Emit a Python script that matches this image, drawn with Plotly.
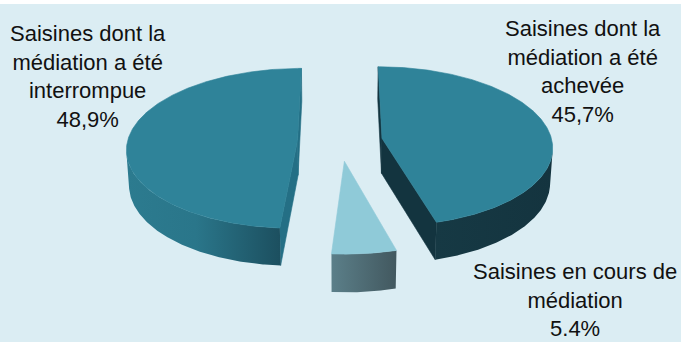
import numpy as np
import plotly.graph_objects as go

# ---- data -------------------------------------------------------------
categories = [
    "Saisines dont la médiation a été achevée",
    "Saisines en cours de médiation",
    "Saisines dont la médiation a été interrompue",
]
values = [45.7, 5.4, 48.9]
value_labels = ["45,7%", "5.4%", "48,9%"]
label_lines = [
    "Saisines dont la<br>médiation a été<br>achevée",
    "Saisines en cours de<br>médiation",
    "Saisines dont la<br>médiation a été<br>interrompue",
]

# ---- styling ----------------------------------------------------------
top_colors = ["#2f8399", "#8fcad8", "#2f8399"]
cut_colors = ["#13343f", "#42585f", "#246f85"]
side_scales = [
    [[0, "#163944"], [1, "#14343f"]],
    [[0, "#5b7f89"], [1, "#42585f"]],
    [[0, "#2c7b8f"], [0.45, "#2a768a"], [1, "#1c4f5f"]],
]
label_pos = [(583, 71), (575, 300), (88, 76)]
BG = "#dbedf3"

W, H = 681, 342
CX, CY = 340, 141          # screen position of the pie centre
RX = 170                   # projected radius at centre depth (px)
DIST = 8.85                # camera distance in pie radii
ALPHA = np.radians(27.8)   # elevation of the view
F = RX * DIST
THICK = 0.235              # pie thickness in radii
EXPLODE = 0.25
CAM = np.array([0.0, DIST * np.sin(ALPHA), DIST * np.cos(ALPHA)])


def project(x, y, z):
    x, y, z = np.asarray(x, float), np.asarray(y, float), np.asarray(z, float)
    depth = DIST - y * np.sin(ALPHA) - z * np.cos(ALPHA)
    up = y * np.cos(ALPHA) - z * np.sin(ALPHA)
    return CX + F * x / depth, CY - F * up / depth


def poly(xs, ys, color=None, scale=None, width=0.6):
    xs = list(xs) + [xs[0]]
    ys = list(ys) + [ys[0]]
    kw = dict(x=xs, y=ys, mode="lines", fill="toself",
              hoverinfo="skip", showlegend=False)
    if scale is not None:
        kw["fillgradient"] = dict(type="horizontal", colorscale=scale)
        kw["line"] = dict(width=0)
    else:
        kw["fillcolor"] = color
        kw["line"] = dict(color=color, width=width)
    return go.Scatter(**kw)


def facing(normal_xz, px, pz):
    to_cam = np.array([CAM[0] - px, CAM[2] - pz])
    return float(np.dot(normal_xz, to_cam)) > 0


total = sum(values)
bounds = np.concatenate([[0], np.cumsum(values)]) / total * 360.0

slices = []
for i, v in enumerate(values):
    a0, a1 = np.radians(bounds[i]), np.radians(bounds[i + 1])
    mid = (a0 + a1) / 2
    ox, oz = EXPLODE * np.sin(mid), -EXPLODE * np.cos(mid)
    slices.append((i, a0, a1, ox, oz))

# paint the slices from the back to the front
slices.sort(key=lambda s: s[4])

traces = []
for i, a0, a1, ox, oz in slices:
    n = max(int(np.degrees(a1 - a0) * 2), 8)
    th = np.linspace(a0, a1, n + 1)

    # radial cut faces
    for ang, sign in ((a0, -1), (a1, 1)):
        nrm = sign * np.array([np.cos(ang), np.sin(ang)])
        if facing(nrm, ox, oz):
            ex, ez = ox + np.sin(ang), oz - np.cos(ang)
            sx, sy = project([ox, ex, ex, ox], [0, 0, -THICK, -THICK],
                             [oz, ez, ez, oz])
            traces.append(poly(sx, sy, cut_colors[i]))

    # outer wall: the part that faces the viewer, as one shaded polygon
    vis = np.array([facing(np.array([np.sin(t), -np.cos(t)]),
                           ox + np.sin(t), oz - np.cos(t)) for t in th])
    if vis.any():
        tv = th[vis]
        wx, wz = ox + np.sin(tv), oz - np.cos(tv)
        tx, ty = project(wx, np.zeros_like(wx), wz)
        bx, by = project(wx, np.full_like(wx, -THICK), wz)
        traces.append(poly(np.concatenate([tx, bx[::-1]]),
                           np.concatenate([ty, by[::-1]]),
                           scale=side_scales[i]))

    # top face
    X = np.concatenate([[ox], ox + np.sin(th)])
    Z = np.concatenate([[oz], oz - np.cos(th)])
    sx, sy = project(X, np.zeros_like(X), Z)
    traces.append(poly(sx, sy, top_colors[i]))

fig = go.Figure(traces)

for i in range(len(values)):
    x, y = label_pos[i]
    fig.add_annotation(x=x, y=y, xref="x", yref="y",
                       text=label_lines[i] + "<br>" + value_labels[i],
                       showarrow=False, align="center",
                       xanchor="center", yanchor="middle",
                       font=dict(family="Liberation Sans Narrow, Arial Narrow, Liberation Sans, Arial",
                                 size=22, color="#111111"))

fig.update_layout(
    width=W, height=H,
    margin=dict(l=0, r=0, t=4, b=0),
    paper_bgcolor="white", plot_bgcolor=BG,
    xaxis=dict(range=[0, W], visible=False, fixedrange=True),
    yaxis=dict(range=[H, 4], visible=False, fixedrange=True),
    showlegend=False,
)

fig.write_html("out.html")
